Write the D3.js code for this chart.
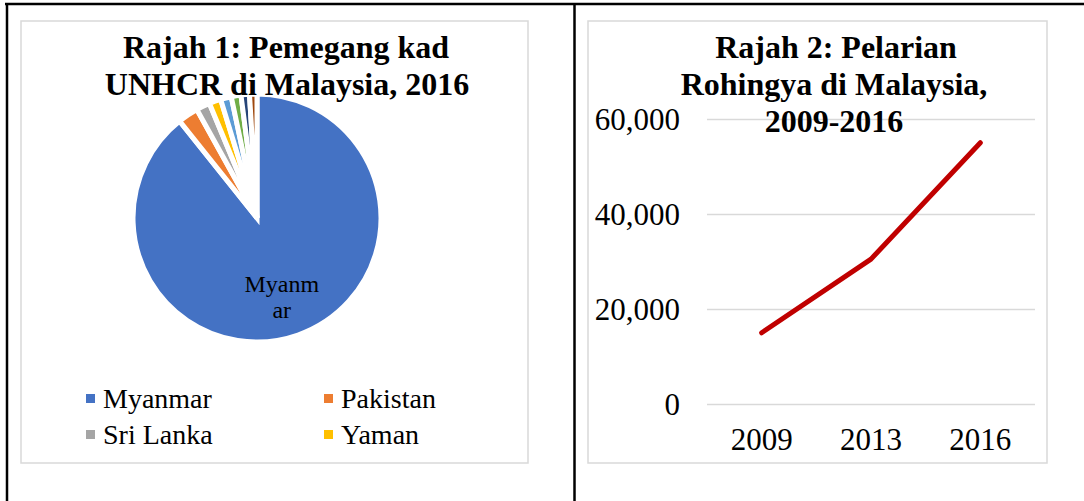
<!DOCTYPE html>
<html>
<head>
<meta charset="utf-8">
<script src="https://d3js.org/d3.v7.min.js"></script>
<style>
  body { margin: 0; background: #fff; }
  text { font-family: "Liberation Serif", "Times New Roman", serif; fill: #000; }
</style>
</head>
<body>
<div class="box"></div>
<script>
// Data
const negara = ['Myanmar', 'Pakistan', 'Sri Lanka', 'Yaman', 'Somalia', 'Syria', 'Iraq', 'Afghanistan'];
const pemegangKad = [134000, 4000, 2700, 2300, 2100, 1900, 1650, 1450];
const warnaPie = ['#4472C4', '#ED7D31', '#A5A5A5', '#FFC000', '#5B9BD5', '#70AD47', '#264478', '#9E480E'];
const legendNegara = ['Myanmar', 'Pakistan', 'Sri Lanka', 'Yaman'];

const tahun = ['2009', '2013', '2016'];
const pelarian = [15000, 30500, 55000];
const yTicks = [0, 20000, 40000, 60000];

const svg = d3.select('.box')
              .append('svg')
              .attr('width', 1084)
              .attr('height', 501);

// Table lines
svg.append('line').attr('x1', 5).attr('x2', 1084).attr('y1', 4).attr('y2', 4)
   .attr('stroke', '#000').attr('stroke-width', 2.5);
svg.append('line').attr('x1', 7).attr('x2', 7).attr('y1', 3).attr('y2', 501)
   .attr('stroke', '#000').attr('stroke-width', 2.5);
svg.append('line').attr('x1', 574.5).attr('x2', 574.5).attr('y1', 3).attr('y2', 501)
   .attr('stroke', '#000').attr('stroke-width', 2.5);

// Chart frames
svg.append('rect').attr('x', 21).attr('y', 21).attr('width', 507).attr('height', 442)
   .attr('fill', '#fff').attr('stroke', '#D9D9D9').attr('stroke-width', 1.5);
svg.append('rect').attr('x', 588).attr('y', 21).attr('width', 459).attr('height', 442)
   .attr('fill', '#fff').attr('stroke', '#D9D9D9').attr('stroke-width', 1.5);

// ---------- Rajah 1 : pie ----------
const cx = 257, cy = 218, radius = 124;

const pie = d3.pie().sort(null).value(d => d);
const arcs = pie(pemegangKad);
const arc = d3.arc().innerRadius(0).outerRadius(radius);
const labelArc = d3.arc().innerRadius(0).outerRadius(168);

const pieG = svg.append('g')
   .attr('transform', `translate(${cx}, ${cy})`);

pieG.selectAll('path')
   .data(arcs)
   .enter()
   .append('path')
   .attr('d', arc)
   .attr('fill', (d, i) => warnaPie[i])
   .attr('stroke', '#fff')
   .attr('stroke-width', 5)
   .attr('stroke-linejoin', 'miter');

// data label on Myanmar slice
const pos = labelArc.centroid(arcs[0]);
const lbl = pieG.append('text')
   .attr('text-anchor', 'middle')
   .attr('font-size', 24);
lbl.append('tspan').attr('x', pos[0] - 3).attr('y', pos[1] - 5).text('Myanm');
lbl.append('tspan').attr('x', pos[0] - 3).attr('y', pos[1] + 21).text('ar');

const tajuk1 = svg.append('text')
   .attr('text-anchor', 'middle')
   .attr('font-size', 32)
   .attr('font-weight', 'bold');
tajuk1.append('tspan').attr('x', 286).attr('y', 58).text('Rajah 1: Pemegang kad');
tajuk1.append('tspan').attr('x', 287).attr('y', 95).text('UNHCR di Malaysia, 2016');

// legend
const legend = svg.selectAll('.legend')
   .data(legendNegara)
   .enter()
   .append('g')
   .attr('class', 'legend')
   .attr('transform', (d, i) => `translate(${i % 2 === 0 ? 86 : 324}, ${i < 2 ? 394 : 430})`);

legend.append('rect')
   .attr('width', 9).attr('height', 9)
   .attr('fill', d => warnaPie[negara.indexOf(d)]);
legend.append('text')
   .attr('x', 17).attr('y', 14)
   .attr('font-size', 28)
   .text(d => d);

// ---------- Rajah 2 : line ----------
const x = d3.scaleBand()
            .domain(tahun)
            .range([707, 1035]);
const y = d3.scaleLinear()
            .domain([0, 60000])
            .range([404, 119]);

const grid = svg.append('g')
   .attr('transform', 'translate(707, 0)')
   .call(d3.axisLeft(y).tickValues(yTicks).tickSize(-328).tickFormat(''));
grid.select('.domain').remove();
grid.selectAll('line').attr('stroke', '#D9D9D9').attr('stroke-width', 1.5);

const groupeY = svg.append('g')
   .attr('transform', 'translate(707, 0)')
   .call(d3.axisLeft(y).tickValues(yTicks).tickSize(0).tickPadding(27).tickFormat(d3.format(',')));
groupeY.select('.domain').remove();
groupeY.selectAll('text')
   .attr('font-size', 31)
   .attr('font-family', '"Liberation Serif", serif')
   .attr('dy', '0.34em');

const groupeX = svg.append('g')
   .attr('transform', 'translate(0, 404)')
   .call(d3.axisBottom(x).tickSize(0).tickPadding(24));
groupeX.select('.domain').remove();
groupeX.selectAll('text')
   .attr('font-size', 31)
   .attr('font-family', '"Liberation Serif", serif')
   .attr('dy', '0.71em');

const valueLine = d3.line()
   .x((d, i) => x(tahun[i]) + x.bandwidth() / 2)
   .y(d => y(d));

svg.append('path')
   .attr('d', valueLine(pelarian))
   .attr('fill', 'none')
   .attr('stroke', '#C00000')
   .attr('stroke-width', 5)
   .attr('stroke-linecap', 'round')
   .attr('stroke-linejoin', 'round');

const tajuk2 = svg.append('text')
   .attr('text-anchor', 'middle')
   .attr('font-size', 32)
   .attr('font-weight', 'bold');
tajuk2.append('tspan').attr('x', 836).attr('y', 58).text('Rajah 2: Pelarian');
tajuk2.append('tspan').attr('x', 834).attr('y', 95).text('Rohingya di Malaysia,');
tajuk2.append('tspan').attr('x', 834).attr('y', 132).text('2009-2016');
</script>
</body>
</html>
